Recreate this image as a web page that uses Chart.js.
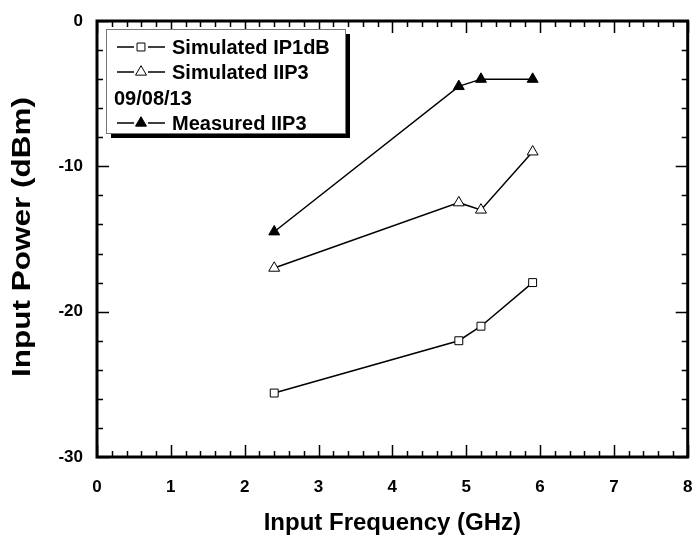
<!DOCTYPE html>
<html>
<head>
<meta charset="utf-8">
<script src="https://cdn.jsdelivr.net/npm/chart.js@4"></script>
<style>
  html, body { margin: 0; padding: 0; background: #fff; }
</style>
</head>
<body>
<canvas id="grafica" width="695" height="544"></canvas>
<script>
// datos
const frecuencias = [2.4, 4.9, 5.2, 5.9];
const simIP1dB = [-25.6, -22, -21, -18];
const simIIP3 = [-17, -12.5, -13, -9];
const medIIP3 = [-14.5, -4.5, -4, -4];
const etiquetasLeyenda = ['Simulated IP1dB', 'Simulated IIP3', '09/08/13', 'Measured IIP3'];
const tituloY = 'Input Power (dBm)';

const fuente = '"Liberation Sans", Arial, sans-serif';

function puntos(ys) {
    return frecuencias.map((x, i) => ({ x: x, y: ys[i] }));
}

// marco, marcas hacia adentro, titulo Y y leyenda
const marcoPlugin = {
    id: 'marco',
    afterDraw(chart) {
        const ctx = chart.ctx;
        const a = chart.chartArea;
        const sx = chart.scales.x, sy = chart.scales.y;
        ctx.save();
        ctx.strokeStyle = '#000';
        ctx.lineWidth = 1.5;
        ctx.beginPath();
        for (let v = 0; v <= 8.001; v += 0.2) {
            const px = Math.round(sx.getPixelForValue(v)) + 0.5;
            const mayor = Math.abs(v - Math.round(v)) < 0.01;
            const len = mayor ? 12 : 6;
            ctx.moveTo(px, a.bottom); ctx.lineTo(px, a.bottom - len);
            ctx.moveTo(px, a.top); ctx.lineTo(px, a.top + len);
        }
        for (let v = -30; v <= 0.001; v += 2) {
            const py = Math.round(sy.getPixelForValue(v)) + 0.5;
            const mayor = Math.abs(v % 10) < 0.01;
            const len = mayor ? 12 : 6;
            ctx.moveTo(a.left, py); ctx.lineTo(a.left + len, py);
            ctx.moveTo(a.right, py); ctx.lineTo(a.right - len, py);
        }
        ctx.stroke();
        ctx.lineWidth = 3;
        ctx.strokeRect(a.left, a.top, a.right - a.left, a.bottom - a.top);

        // titulo del eje Y (estirado como en el original)
        ctx.save();
        ctx.translate(23, 237);
        ctx.rotate(-Math.PI / 2);
        ctx.font = 'bold 25px ' + fuente;
        const ancho = ctx.measureText(tituloY).width;
        ctx.scale(280 / ancho, 1);
        ctx.fillStyle = '#000';
        ctx.textAlign = 'center';
        ctx.textBaseline = 'middle';
        ctx.fillText(tituloY, 0, 0);
        ctx.restore();

        // leyenda
        const lx = 106, ly = 29, lw = 239, lh = 104;
        ctx.fillStyle = '#000';
        ctx.fillRect(lx + 5, ly + 5, lw, lh);
        ctx.fillStyle = '#fff';
        ctx.fillRect(lx, ly, lw, lh);
        ctx.strokeStyle = '#777';
        ctx.lineWidth = 1;
        ctx.strokeRect(lx + 0.5, ly + 0.5, lw, lh);

        const filas = [47, 72, 98, 123];
        const marcas = [chart.data.datasets[0], chart.data.datasets[1], null, chart.data.datasets[2]];
        ctx.font = 'bold 20px ' + fuente;
        ctx.textBaseline = 'middle';
        etiquetasLeyenda.forEach((t, i) => {
            const y = filas[i];
            const ds = marcas[i];
            let tx = 114;
            if (ds) {
                ctx.strokeStyle = '#000';
                ctx.lineWidth = 1.5;
                ctx.beginPath();
                ctx.moveTo(117, y); ctx.lineTo(134, y);
                ctx.moveTo(148, y); ctx.lineTo(165, y);
                ctx.stroke();
                ctx.fillStyle = ds.pointBackgroundColor;
                ctx.strokeStyle = '#000';
                ctx.lineWidth = 1;
                Chart.helpers.drawPoint(ctx, {
                    pointStyle: ds.pointStyle, radius: ds.pointRadius,
                    borderWidth: 1, rotation: 0
                }, 141, y);
                tx = 172;
            }
            ctx.fillStyle = '#000';
            ctx.fillText(t, tx, y + 1);
        });
        ctx.restore();
    }
};

const ctx = document.getElementById('grafica').getContext('2d');
new Chart(ctx, {
    type: 'scatter',
    data: {
        datasets: [
            {
                label: 'Simulated IP1dB', data: puntos(simIP1dB), showLine: true,
                borderColor: '#000', borderWidth: 1.5,
                pointStyle: 'rect', pointRadius: 5.6,
                pointBackgroundColor: '#fff', pointBorderColor: '#000', pointBorderWidth: 1
            },
            {
                label: 'Simulated IIP3', data: puntos(simIIP3), showLine: true,
                borderColor: '#000', borderWidth: 1.5,
                pointStyle: 'triangle', pointRadius: 6.3,
                pointBackgroundColor: '#fff', pointBorderColor: '#000', pointBorderWidth: 1
            },
            {
                label: 'Measured IIP3', data: puntos(medIIP3), showLine: true,
                borderColor: '#000', borderWidth: 1.5,
                pointStyle: 'triangle', pointRadius: 6.3,
                pointBackgroundColor: '#000', pointBorderColor: '#000', pointBorderWidth: 1
            }
        ]
    },
    options: {
        responsive: false,
        animation: false,
        layout: { padding: { top: 21, right: 7, left: 0, bottom: 0 } },
        plugins: { legend: { display: false }, tooltip: { enabled: false } },
        scales: {
            x: {
                type: 'linear', min: 0, max: 8,
                // el espacio hasta las etiquetas va en tickLength para no inflar el margen derecho
                grid: { display: false, drawTicks: true, tickLength: 20 },
                border: { display: false },
                ticks: { stepSize: 1, color: '#000', padding: 0, font: { family: fuente, size: 17, weight: 'bold' } },
                title: { display: true, text: 'Input Frequency (GHz)', color: '#000', padding: { top: 14, bottom: 6 },
                         font: { family: fuente, size: 24, weight: 'bold' } },
                afterFit(scale) { scale.height = 87; }
            },
            y: {
                type: 'linear', min: -30, max: 0,
                grid: { display: false, drawTicks: true, tickLength: 14 },
                border: { display: false },
                ticks: { stepSize: 10, color: '#000', padding: 0, font: { family: fuente, size: 17, weight: 'bold' } },
                afterFit(scale) { scale.width = 97; }
            }
        }
    },
    plugins: [marcoPlugin]
});
</script>
</body>
</html>
